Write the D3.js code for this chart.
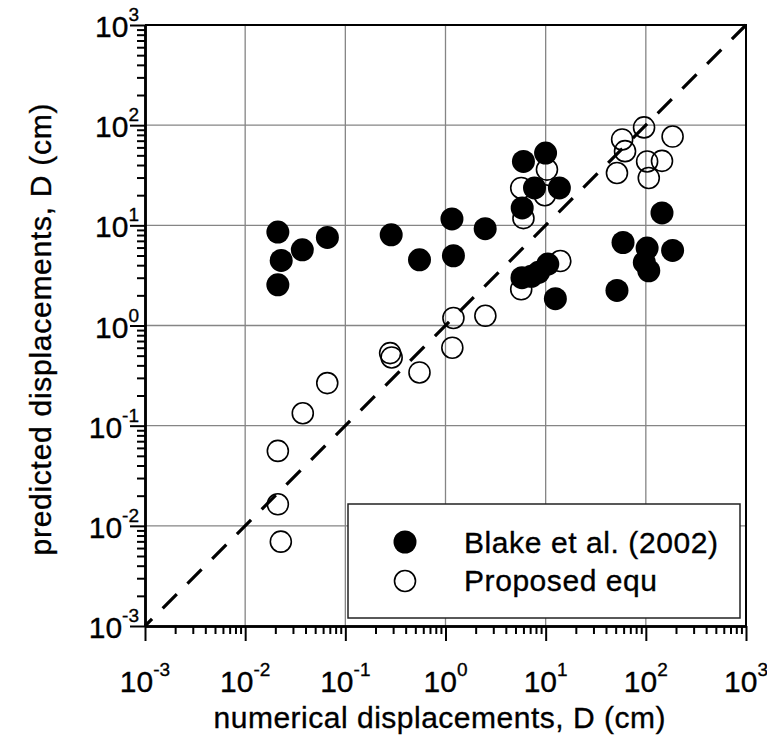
<!DOCTYPE html>
<html><head><meta charset="utf-8">
<script src="https://cdn.jsdelivr.net/npm/d3@7"></script>
<style>
body{margin:0;background:#fff}
svg{display:block}
text{font-family:"Liberation Sans",Arial,Helvetica,sans-serif;fill:#000;stroke:#000;stroke-width:0.35px}
</style></head>
<body><svg id="c" width="767" height="735"></svg>
<script>
// ---- data ----
const blakeX = [0.0212,0.0229,0.0212,0.0372,0.0662,0.287,0.55,1.16,1.2,2.49,6.0,9.98,7.74,13.7,5.83,5.8,7.2,8.5,10.5,12.5,145,59.2,103,185,96.6,107,51.5];
const blakeY = [8.57,4.46,2.55,5.7,7.57,8.05,4.53,11.6,4.97,9.25,43.4,52.7,23.6,23.6,14.9,3.0,3.1,3.4,4.1,1.85,13.3,6.74,5.93,5.61,4.26,3.52,2.24];
const propX = [0.0212,0.0212,0.0227,0.0376,0.066,0.28,0.29,0.55,1.17,1.2,2.5,5.7,14,6.0,9.8,5.7,10.3,96,58,62,185,51.5,103,145,107];
const propY = [0.056,0.0164,0.00695,0.133,0.266,0.53,0.48,0.34,0.60,1.19,1.25,2.3,4.4,11.8,20,23.6,36,95,72,55,77,33.3,43.4,44,29.7];
const tickExponents = [-3,-2,-1,0,1,2,3];
const legendLabels = ["Blake et al. (2002)","Proposed equ"];
const xTitle = "numerical displacements, D (cm)";
const yTitle = "predicted displacements, D (cm)";

// ---- layout ----
const M = {l:145, t:25, r:746, b:626};
const svg = d3.select("#c");
const x = d3.scaleLog().domain([1e-3,1e3]).range([M.l,M.r]);
const y = d3.scaleLog().domain([1e-3,1e3]).range([M.b,M.t]);
const majorVals = tickExponents.map(e => Math.pow(10,e));
const minorVals = [];
for (let e=-3;e<3;e++) for (let m=2;m<=9;m++) minorVals.push(m*Math.pow(10,e));

// grid
const inner = majorVals.slice(1,-1);
svg.append("g").selectAll("line").data(inner).join("line")
  .attr("x1",d=>x(d)).attr("x2",d=>x(d)).attr("y1",M.t).attr("y2",M.b)
  .attr("stroke","#858585").attr("stroke-width",1.3);
svg.append("g").selectAll("line").data(inner).join("line")
  .attr("y1",d=>y(d)).attr("y2",d=>y(d)).attr("x1",M.l).attr("x2",M.r)
  .attr("stroke","#858585").attr("stroke-width",1.3);

// frame (top/right)
svg.append("path").attr("d",`M${M.l},${M.t}H${M.r}V${M.b}`)
  .attr("fill","none").attr("stroke","#000").attr("stroke-width",2);

// axes
function styleAxis(g){
  g.selectAll(".tick text").remove();
  g.selectAll(".tick line").attr("stroke","#000").attr("stroke-width",2);
  g.select(".domain").attr("stroke","#000").attr("stroke-width",2.5);
}
svg.append("g").attr("transform",`translate(0,${M.b})`)
  .call(d3.axisBottom(x).tickValues(minorVals).tickSize(8).tickSizeOuter(0).tickFormat(""))
  .call(styleAxis);
svg.append("g").attr("transform",`translate(0,${M.b})`)
  .call(d3.axisBottom(x).tickValues(majorVals).tickSize(15).tickSizeOuter(0).tickFormat(""))
  .call(styleAxis);
svg.append("g").attr("transform",`translate(${M.l},0)`)
  .call(d3.axisLeft(y).tickValues(minorVals).tickSize(8).tickSizeOuter(0).tickFormat(""))
  .call(styleAxis);
svg.append("g").attr("transform",`translate(${M.l},0)`)
  .call(d3.axisLeft(y).tickValues(majorVals).tickSize(15).tickSizeOuter(0).tickFormat(""))
  .call(styleAxis);

// tick labels
const xl = svg.append("g").selectAll("text").data(tickExponents).join("text")
  .attr("x",e=>x(Math.pow(10,e))).attr("y",692).attr("text-anchor","middle")
  .style("font-size","30px");
xl.append("tspan").text("10");
xl.append("tspan").attr("dy",-16).style("font-size","19px").text(e=>String(e));

const yl = svg.append("g").selectAll("text").data(tickExponents).join("text")
  .attr("x",139).attr("y",e=>y(Math.pow(10,e))+12).attr("text-anchor","end")
  .style("font-size","30px");
yl.append("tspan").text("10");
yl.append("tspan").attr("dy",-16).style("font-size","19px").text(e=>String(e));

// axis titles
svg.append("text").attr("x",(M.l+M.r)/2 - 6).attr("y",728).attr("text-anchor","middle")
  .style("font-size","30px").attr("textLength",452).attr("lengthAdjust","spacing").text(xTitle);
svg.append("text").attr("transform",`translate(51,${(M.t+M.b)/2 + 4}) rotate(-90)`).attr("text-anchor","middle")
  .style("font-size","30px").attr("textLength",452).attr("lengthAdjust","spacing").text(yTitle);

// points
const propData = propX.map((v,i)=>[v,propY[i]]);
const blakeData = blakeX.map((v,i)=>[v,blakeY[i]]);
svg.append("g").selectAll("circle").data(propData).join("circle")
  .attr("cx",d=>x(d[0])).attr("cy",d=>y(d[1])).attr("r",10.5)
  .attr("fill","none").attr("stroke","#000").attr("stroke-width",1.6);
svg.append("g").selectAll("circle").data(blakeData).join("circle")
  .attr("cx",d=>x(d[0])).attr("cy",d=>y(d[1])).attr("r",11.5)
  .attr("fill","#000");

// 1:1 line
svg.append("line").attr("x1",x(1e-3)).attr("y1",y(1e-3)).attr("x2",x(1e3)).attr("y2",y(1e3))
  .attr("stroke","#000").attr("stroke-width",3.2).attr("stroke-dasharray","20,15").attr("stroke-dashoffset",10);

// legend
const lg = svg.append("g");
lg.append("rect").attr("x",348).attr("y",504).attr("width",392).attr("height",114)
  .attr("fill","#fff").attr("stroke","#222").attr("stroke-width",1.5);
lg.append("circle").attr("cx",405).attr("cy",542).attr("r",11.5).attr("fill","#000");
lg.append("circle").attr("cx",405).attr("cy",581).attr("r",10.5).attr("fill","none").attr("stroke","#000").attr("stroke-width",1.6);
lg.append("text").attr("x",464).attr("y",553).style("font-size","30px").attr("textLength",254).attr("lengthAdjust","spacing").text(legendLabels[0]);
lg.append("text").attr("x",464).attr("y",591).style("font-size","30px").attr("textLength",193).attr("lengthAdjust","spacing").text(legendLabels[1]);
</script></body></html>
